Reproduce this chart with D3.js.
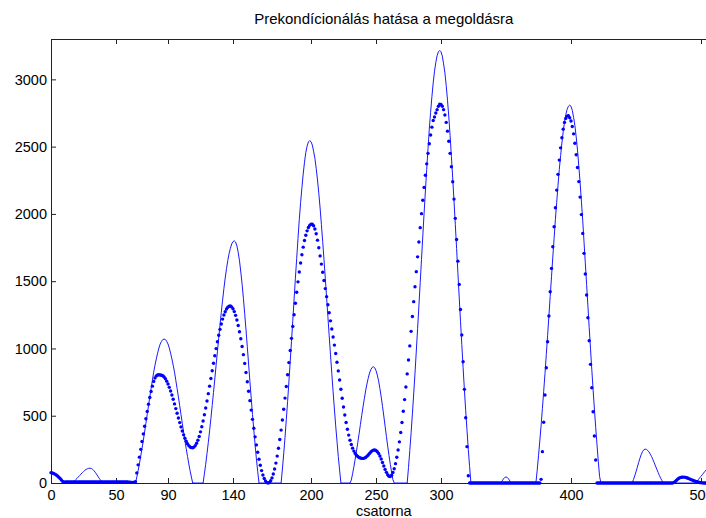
<!DOCTYPE html>
<html><head><meta charset="utf-8">
<script src="https://cdn.jsdelivr.net/npm/d3@7"></script>
<style>
body{margin:0;background:#fff}
svg{display:block;background:#fff}
text{font-family:"Liberation Sans",Arial,sans-serif;fill:#000}
</style>
</head><body>
<svg id="chart" width="706" height="518"></svg>
<script>
const title = "Prekondícionálás hatása a megoldásra";
const xLabel = "csatorna";
const xTicks = [0, 50, 90, 140, 200, 250, 300, 400, 500];
const yTicks = [0, 500, 1000, 1500, 2000, 2500, 3000];
const xDomain = [0, 512];
const yDomain = [0, 3300];

// solid line, one value per channel 0..511
const solidValues = [
  77,75,71,66,60,52,43,33,22,12,6,             // 0-10
  0,0,0,0,0,0,                                 // 11-16
  7,15,25,34,45,55,66,76,85,94,101,106,109,110,108,102,92,80,66,51,36,23,10, // 17-39
  0,0,0,0,0,0,0,0,0,0, 0,0,0,0,0,0,0,0,0,0, 0,0,0,0,0,0, // 40-65
  44,91,142,198,255,316,379,443,508,575,640,702,764,824,876,922,965,1003,1033,1053,1066,1070, // 66-87
  1066,1053,1033,1003,965,922,876,824,764,702,640,575,508,443,379,316,255,198,142,91,44, // 88-108
  0,0,0,0,0,0,0,0,0,                           // 109-117
  68,139,219,301,388,480,576,673,773,875,975,1076,1173,1269,1359,1445,1523,1593,1654,1706,1744,1777,1794,1800, // 118-141
  1791,1762,1715,1651,1568,1478,1373,1258,1138,1013,884,756,632,509,394,283,180,86, // 142-159
  0,0,0,0,0,0,0,0,0,0, 0,0,0,0,0,0,0,0,         // 160-177
  104,216,338,471,606,751,901,1054,1209,1367,1522,1670,1817,1960,2084,2194,2296,2385,2456,2504,2535,2545, // 178-199
  2537,2512,2466,2413,2339,2252,2153,2044,1921,1794,1659,1522,1379,1237,1094,952,814,678,550,425,310,196,97, // 200-222
  0,0,0,0,0,0,0,0,                             // 223-230
  22,69,121,178,238,302,366,434,500,565,626,684,735,778,817,842,859,864, // 231-248
  857,836,802,759,702,640,570,498,422,347,274,205,139,79,25, // 249-263
  0,0,0,0,0,0,0,0,0,0,0,                       // 264-274
  116,241,373,514,662,817,981,1148,1315,1489,1662,1836,2006,2170,2331,2485,2630,2755,2871,2974,3061,3125,3176,3205,3215, // 275-299
  3205,3173,3115,3048,2955,2845,2720,2582,2427,2267,2096,1923,1743,1562,1382,1202,1029,857,694,537,392,248,122, // 300-322
  0,0,0,0,0,0,0,0,0,0, 0,0,0,0,0,0,0,0,0,0, 0,0,0,0, // 323-346
  15,30,41,45,41,30,15,                        // 347-353
  0,0,0,0,0,0,0,0,0,0, 0,0,0,0,0,0,0,0,0,0,     // 354-373
  95,202,312,427,553,682,814,955,1095,1241,1387,1533,1679,1817,1960,2086,2213,2331,2432,2527,2611,2682,2738,2777,2800,2808, // 374-399
  2800,2769,2718,2656,2572,2474,2356,2232,2095,1954,1794,1637,1477,1317,1154,997,842,694,550,413,284,160,48, // 400-422
  0,0,0,0,0,0,0,0,0,0, 0,0,0,0,0,0,0,0,0,0, 0,0,0,0,0, // 423-447
  24,52,83,117,151,183,211,233,247,252,        // 448-457
  250,242,231,214,196,174,151,126,102,79,56,35,17, // 458-470
  0,0,0,0,0,0,0,0,0,0, 0,0,0,0,0,0,0,0,0,0, 0,0,0,0,0,0, // 471-496
  12,25,38,50,62,74,86,97,108,118,128,138,147,156,165 // 497-511
];

// dotted series (preconditioned), one value per channel 0..511
const dottedValues = [
  77,75,71,66,60,52,43,33,22,12,6,             // 0-10
  7,7,7,7,7,7,7,7,7,7, 7,7,7,7,7,7,7,7,7,7, 7,7,7,7,7,7,7,7,7,7, 7,7,7,7,7,7,7,7,7,7, 7,7,7,7,7,7,7,7,7, // 11-59
  6,6,5,5,6,10,                                // 60-65
  75,135,192,250,308,365,422,478,532,585,635,680,720,755,780,796,803,805,803, // 66-84
  801,797,788,775,757,736,711,684,654,622,588,553,518,483,449,417,386,358,333,310,292,278,268,263, // 85-108
  262,267,278,295,318,346,380,418,461,507,557,609,664,720,777,834,890,946,999,1050,1098,1142,1182,1218,1249,1273,1293,1306,1314, // 109-137
  1315,1309,1295,1274,1246,1212,1171,1124,1072,1015,954,889,821,752,682,612,542,473,407,343,283,228,177,132,92,59,33,15,3, // 138-166
  0,                                           // 167
  4,17,38,67,104,148,200,258,323,393,468,548,631,717,805,895,985,1075,1164,1251,1336,1418,1495,1568,1635,1697,1753,1802,1841,1874,1899,1915,1924, // 168-200
  1923,1912,1888,1852,1805,1748,1688,1627,1566,1505,1445,1385,1325,1265,1205,1145,1085,1025,962,898,833,765,697,630,565,505,450,400,356,318,286,259,237,220,207,197,190,186,183,183, // 201-240
  185,190,198,208,219,230,239,244,245,241,233,220,201,178,152,126,101,79,61,50, // 241-260
  48,58,78,106,144,191,245,306,375,450,533,620,713,811,914,1019,1127,1237,1348,1459,1571,1681,1791,1898,2002,2102,2197,2287,2372,2450,2522,2586,2645,2694,2720,2750,2775,2800,2816, // 261-299
  2814,2800,2775,2735,2680,2615,2540,2450,2350,2239,2110,1967,1810,1649,1476,1290,1100,901,696,485,270,54, // 300-321
  0,0,0,0,0,0,0,0,0,0, 0,0,0,0,0,0,0,0,0,0, 0,0,0,0,0,0,0,0,0,0, 0,0,0,0,0,0,0,0,0,0, 0,0,0,0,0,0,0,0,0,0, 0,0,0,0,0, // 322-376
  27,233,451,654,857,1050,1241,1422,1595,1756,1905,2046,2177,2294,2400,2491,2566,2630,2680,2710,2727,2730,2715, // 377-399
  2690,2650,2595,2525,2440,2345,2240,2125,1995,1855,1707,1553,1397,1228,1057,882,708,530,349,171, // 400-419
  0,0,0,0,0,0,0,0,0,0, 0,0,0,0,0,0,0,0,0,0, 0,0,0,0,0,0,0,0,0,0, 0,0,0,0,0,0,0,0,0,0, 0,0,0,0,0,0,0,0,0,0, 0,0,0,0,0,0,0,0,0, // 420-478
  3,10,19,28,35,40,43,44,44,42,39,35,31,27,23,19,15,12,9,6,4,2,1, // 479-501
  0,0,0,0,0,0,0,0,0,0                          // 502-511
];

const W = 706, H = 518;
const mLeft = 51, mTop = 39, mBottom = 483;
const svg = d3.select("#chart");

const x = d3.scaleLinear().domain(xDomain).range([mLeft, mLeft + 1.3 * 512]);
const y = d3.scaleLinear().domain(yDomain).range([mBottom, mTop]);

svg.append("defs").append("clipPath").attr("id", "clip")
  .append("rect").attr("x", mLeft).attr("y", mTop).attr("width", W - mLeft).attr("height", mBottom - mTop);

const axisColor = "#222";
const fontSize = "14.5px";

const gx = svg.append("g").attr("transform", `translate(0,${mBottom})`)
  .call(d3.axisBottom(x).tickValues(xTicks).tickFormat(d3.format("d")).tickSizeInner(-5).tickSizeOuter(0).tickPadding(7));
const gt = svg.append("g").attr("transform", `translate(0,${mTop})`)
  .call(d3.axisTop(x).tickValues(xTicks).tickFormat("").tickSizeInner(-5).tickSizeOuter(0));
const gy = svg.append("g").attr("transform", `translate(${mLeft},0)`)
  .call(d3.axisLeft(y).tickValues(yTicks).tickFormat(d3.format("d")).tickSizeInner(-5).tickSizeOuter(0).tickPadding(4));

[gx, gt, gy].forEach(g => {
  g.selectAll("path.domain").attr("stroke", axisColor).attr("stroke-width", 1);
  g.selectAll(".tick line").attr("stroke", axisColor).attr("stroke-width", 1);
  g.selectAll(".tick text").attr("font-size", fontSize).attr("font-family", '"Liberation Sans",Arial,sans-serif').attr("fill", "#000");
});

const idx = d3.range(solidValues.length);

const line = d3.line().x(i => x(i)).y(i => y(solidValues[i]));
svg.append("path")
  .attr("clip-path", "url(#clip)")
  .attr("d", line(idx))
  .attr("fill", "none")
  .attr("stroke", "#1a1aff")
  .attr("stroke-width", 1);

svg.append("g").selectAll("circle")
  .data(d3.range(dottedValues.length))
  .join("circle")
  .attr("cx", i => x(i))
  .attr("cy", i => y(dottedValues[i]))
  .attr("r", 1.7)
  .attr("fill", "#0000ff");

const midX = (mLeft + mLeft + 1.3 * 512) / 2;
svg.append("text")
  .attr("x", midX).attr("y", 24)
  .attr("text-anchor", "middle").attr("font-size", "15px")
  .text(title);

svg.append("text")
  .attr("x", midX).attr("y", 516)
  .attr("text-anchor", "middle").attr("font-size", fontSize)
  .text(xLabel);
</script>
</body></html>
